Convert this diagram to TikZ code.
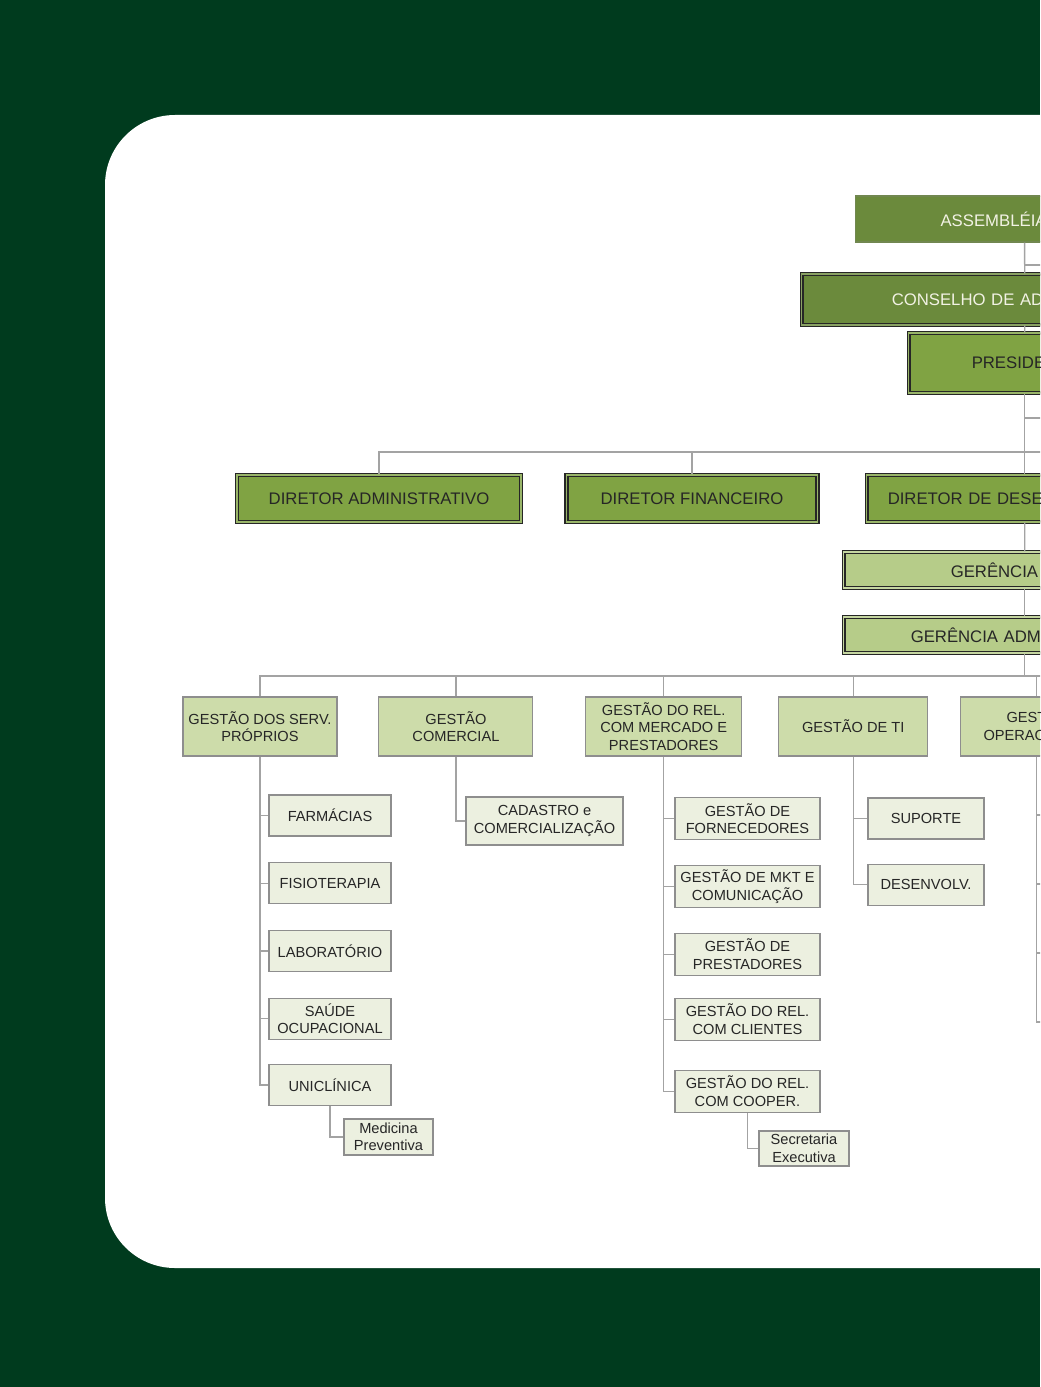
\documentclass[tikz,border=0pt]{standalone}
\usepackage{fontspec}
\setmainfont{Liberation Sans}
\usepackage{xcolor}
\usepackage{tikz}
\usetikzlibrary{positioning}
\definecolor{fundo}{HTML}{003B1E}
\definecolor{oliva}{HTML}{6B8A3C}
\definecolor{verde}{HTML}{80A343}
\definecolor{verdeclaro}{HTML}{B6CC89}
\definecolor{gestaobg}{HTML}{CDDCAA}
\definecolor{setorbg}{HTML}{ECF0E0}
\definecolor{creme}{HTML}{F2F2E4}
\definecolor{linhacor}{HTML}{A3A3A3}
\definecolor{bordacinza}{HTML}{8E8E8E}
\definecolor{texto}{HTML}{262626}

\begin{document}
\begin{tikzpicture}[node distance=0.64cm]
    \tikzstyle{duplo} = [draw=black!85, double=verde!80!white, double distance=0.8pt, line width=1.05pt]
    \tikzstyle{conselhos} = [rectangle, fill=oliva, text=creme, font=\fontsize{11.9}{14}\selectfont, align=left, anchor=west, inner ysep=0pt]
    \tikzstyle{diretoria} = [rectangle, fill=verde, duplo, text=texto, font=\fontsize{11.9}{14}\selectfont, minimum height=1.175cm, inner ysep=0pt]
    \tikzstyle{gerencia} = [rectangle, fill=verdeclaro, duplo, double=verdeclaro!80!white, text=texto, font=\fontsize{11.9}{14}\selectfont, align=left, anchor=west, minimum height=0.9cm, inner ysep=0pt]
    \tikzstyle{gestao} = [rectangle, draw=bordacinza, fill=gestaobg, line width=0.8pt, text=texto, font=\fontsize{10.4}{12.45}\selectfont, align=center, minimum height=1.475cm, inner sep=2pt]
    \tikzstyle{setor} = [rectangle, draw=bordacinza, fill=setorbg, line width=0.8pt, text=texto, font=\fontsize{10.4}{12.45}\selectfont, align=center, minimum height=1.025cm, inner sep=2pt]
    \tikzstyle{linha} = [draw=linhacor, line width=1pt]

    \useasboundingbox (0,0) rectangle (26,-34.675);
    \clip (0,0) rectangle (26,-34.675);
    \fill [fundo] (0,0) rectangle (26,-34.675);
    \fill [white, rounded corners=1.75cm] (2.625,-2.875) rectangle (28,-31.7);

    \node [conselhos, draw=oliva!70!gray, line width=0.8pt, inner xsep=2.125cm, text width=4.2cm, minimum height=1.15cm] at (21.375,-5.475) (assembleia) {ASSEMBLÉIA};
    \node [conselhos, duplo, double=oliva!80!white, inner xsep=2.25cm, text width=6.65cm, minimum height=1.275cm] at (20.025,-7.4875) (conselho) {CONSELHO DE AD};
    \node [conselhos, fill=verde, duplo, text=texto, inner xsep=1.575cm, text width=2.65cm, minimum height=1.5cm] at (22.7,-9.075) (presidente) {PRESIDE};

    \node [diretoria, minimum width=7.1cm] at (9.475,-12.4625) (dirAdm) {DIRETOR ADMINISTRATIVO};
    \node [diretoria, minimum width=6.275cm, right=1.1cm of dirAdm] (dirFin) {DIRETOR FINANCEIRO};
    \node [diretoria, align=left, anchor=west, inner xsep=0.525cm, text width=6.85cm] at (21.65,-12.4625) (dirDes) {DIRETOR DE DESE};

    \node [gerencia, inner xsep=2.675cm, text width=3.7cm] at (21.075,-14.25) (gerGeral) {GERÊNCIA};
    \node [gerencia, inner xsep=1.675cm, text width=5.7cm] at (21.075,-15.875) (gerAdm) {GERÊNCIA ADM};

    \node [gestao, minimum width=3.85cm] at (6.5,-18.1625) (gServ) {GESTÃO DOS SERV.\\PRÓPRIOS};
    \node [gestao, minimum width=3.85cm, right=1.02cm of gServ] (gCom) {GESTÃO\\COMERCIAL};
    \node [gestao, minimum width=3.9cm, right=1.29cm of gCom] (gRel) {GESTÃO DO REL.\\COM MERCADO E\\PRESTADORES};
    \node [gestao, minimum width=3.725cm, right=0.9cm of gRel] (gTI) {GESTÃO DE TI};
    \node [gestao, align=left, inner xsep=0.575cm, text width=2.65cm, right=0.79cm of gTI] (gOper) {\hspace*{0.575cm}GEST\\OPERAC};

    \node [setor, minimum width=3.05cm] at (8.25,-20.3875) (farmacias) {FARMÁCIAS};
    \node [setor, minimum width=3.05cm, below=of farmacias] (fisio) {FISIOTERAPIA};
    \node [setor, minimum width=3.05cm, below=of fisio] (lab) {LABORATÓRIO};
    \node [setor, minimum width=3.05cm, below=of lab] (saude) {SAÚDE\\OCUPACIONAL};
    \node [setor, minimum width=3.05cm, below=0.6cm of saude] (unic) {UNICLÍNICA};
    \node [setor, minimum width=2.225cm, minimum height=0.9cm] at (9.7125,-28.425) (medicina) {Medicina\\Preventiva};

    \node [setor, minimum width=3.925cm, minimum height=1.2cm] at (13.6125,-20.525) (cadastro) {CADASTRO e\\COMERCIALIZAÇÃO};

    \node [setor, minimum width=3.625cm, minimum height=1.05cm] at (18.6875,-20.4625) (forn) {GESTÃO DE\\FORNECEDORES};
    \node [setor, minimum width=3.625cm, minimum height=1.05cm, below=0.62cm of forn] (mkt) {GESTÃO DE MKT E\\COMUNICAÇÃO};
    \node [setor, minimum width=3.625cm, minimum height=1.05cm, below=0.62cm of mkt] (prest) {GESTÃO DE\\PRESTADORES};
    \node [setor, minimum width=3.625cm, minimum height=1.05cm, below=0.545cm of prest] (clientes) {GESTÃO DO REL.\\COM CLIENTES};
    \node [setor, minimum width=3.625cm, minimum height=1.05cm, below=0.72cm of clientes] (cooper) {GESTÃO DO REL.\\COM COOPER.};
    \node [setor, minimum width=2.25cm, minimum height=0.875cm] at (20.1,-28.7125) (secretaria) {Secretaria\\Executiva};

    \node [setor, minimum width=2.9cm] at (23.15,-20.4625) (suporte) {SUPORTE};
    \node [setor, minimum width=2.9cm, below=0.6cm of suporte] (desenv) {DESENVOLV.};

    \coordinate (ramoA) at (26.5,-6.625);
    \coordinate (ramoP) at (26.5,-10.45);
    \coordinate (busD) at (26.5,-11.3);
    \coordinate (busG) at (26.5,-16.9);
    \coordinate (op1) at (26.5,-20.375);
    \coordinate (op2) at (26.5,-22.1);
    \coordinate (op3) at (26.5,-23.825);
    \coordinate (op4) at (26.5,-25.55);

    \path [linha] (assembleia.south) -- (conselho.north);
    \path [linha] (conselho.south) -- (presidente.north);
    \path [linha] (presidente.south) -- (dirDes.north);
    \path [linha] (dirDes.south) -- (gerGeral.north);
    \path [linha] (gerGeral.south) -- (gerAdm.north);
    \path [linha] (gerAdm.south) -- (gerAdm.south |- busG);
    \path [linha] (assembleia.south |- ramoA) -- (ramoA);
    \path [linha] (presidente.south |- ramoP) -- (ramoP);
    \path [linha] (dirAdm.north) |- (busD);
    \path [linha] (dirFin.north) -- (dirFin.north |- busD);

    \path [linha] (gServ.north) |- (busG);
    \path [linha] (gCom.north) -- (gCom.north |- busG);
    \path [linha] (gRel.north) -- (gRel.north |- busG);
    \path [linha] (gTI.north) -- (gTI.north |- busG);
    \path [linha] (gOper.north) -- (gOper.north |- busG);

    \path [linha] (gServ.south) |- (farmacias.west);
    \path [linha] (gServ.south) |- (fisio.west);
    \path [linha] (gServ.south) |- (lab.west);
    \path [linha] (gServ.south) |- (saude.west);
    \path [linha] (gServ.south) |- (unic.west);
    \path [linha] (unic.south) |- (medicina.west);
    \path [linha] (gCom.south) |- (cadastro.west);
    \path [linha] (gRel.south) |- (forn.west);
    \path [linha] (gRel.south) |- (mkt.west);
    \path [linha] (gRel.south) |- (prest.west);
    \path [linha] (gRel.south) |- (clientes.west);
    \path [linha] (gRel.south) |- (cooper.west);
    \path [linha] (cooper.south) |- (secretaria.west);
    \path [linha] (gTI.south) |- (suporte.west);
    \path [linha] (gTI.south) |- (desenv.west);
    \path [linha] (gOper.south) |- (op1);
    \path [linha] (gOper.south) |- (op2);
    \path [linha] (gOper.south) |- (op3);
    \path [linha] (gOper.south) |- (op4);
\end{tikzpicture}
\end{document}
